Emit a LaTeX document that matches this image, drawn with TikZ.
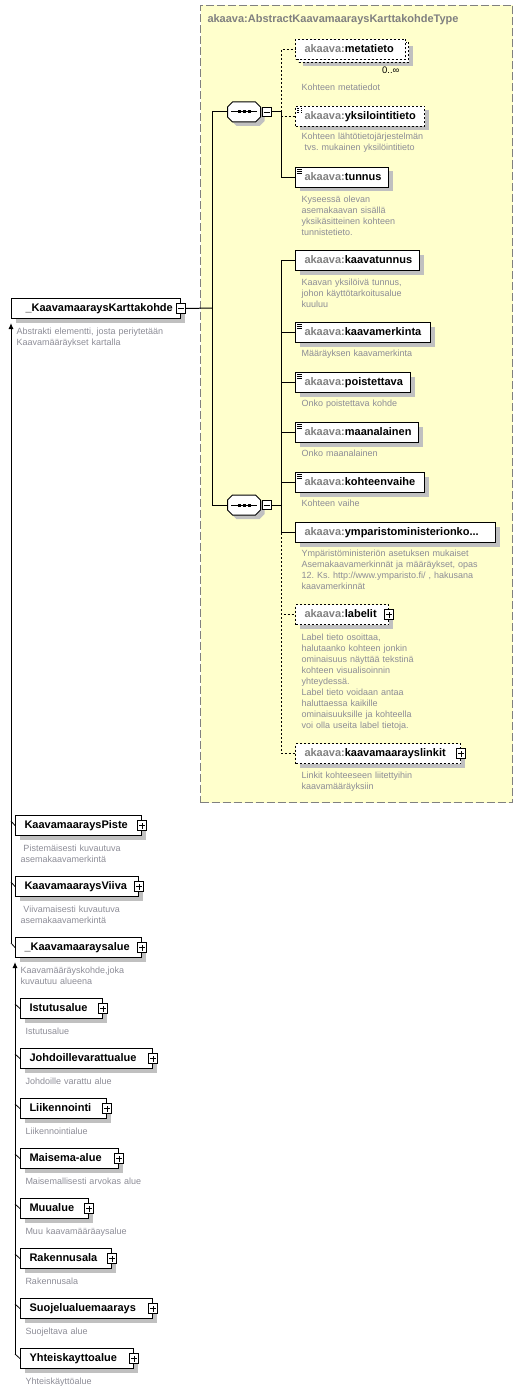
\documentclass[tikz,border=0pt]{standalone}
\usepackage{fontspec}
\setmainfont{Liberation Sans}
\usetikzlibrary{arrows.meta,shadows}
\definecolor{typefill}{RGB}{255,255,204}
\definecolor{typeline}{RGB}{128,128,128}
\definecolor{pfxgray}{RGB}{128,128,128}
\definecolor{docgray}{RGB}{140,140,150}
\definecolor{shadegray}{RGB}{192,192,192}
\newcommand{\ak}[1]{{\color{pfxgray}akaava:}#1}
\newcommand{\seqshape}[1]{%
  \draw[fill=white,boxshadow] ([xshift=5pt]#1.north west) -- ([xshift=-5pt]#1.north east)
    -- ([yshift=-5pt]#1.north east) -- ([yshift=5pt]#1.south east) -- ([xshift=-5pt]#1.south east)
    -- ([xshift=5pt]#1.south west) -- ([yshift=5pt]#1.south west) -- ([yshift=-5pt]#1.north west) -- cycle;
  \draw ([xshift=-13pt]#1.center) -- ([xshift=13pt]#1.center);
  \foreach \k in {-5,0,5}
    \fill[black] ([xshift=\k pt]#1.center) +(-1.5,-1.5) rectangle +(1.5,1.5);}
\frenchspacing

\begin{document}
\begin{tikzpicture}[x=1pt,y=-1pt,line join=miter,line width=1pt,
    boxshadow/.style={drop shadow={shadow xshift=4pt,shadow yshift=-4pt,fill=shadegray,opacity=1}},
    elembase/.style={draw,fill=white,anchor=north west,minimum height=20pt,
      inner xsep=9pt,inner ysep=0pt,text width=#1pt,align=left,
      text height=8pt,text depth=2.5pt,font=\fontsize{11}{13}\selectfont\bfseries},
    elem/.style={elembase=#1,boxshadow},
    opt/.style={dash pattern=on 2pt off 2pt},
    docicon/.style={path picture={
      \foreach \k in {2,4,6}
        \draw[line width=.8pt] ([xshift=1.5pt,yshift=-\k pt]path picture bounding box.north west) -- ++(5pt,0pt);}},
    doc/.style={anchor=base west,inner sep=0pt,text width=215pt,align=left,
      text=docgray,font=\fontsize{9}{11}\selectfont\frenchspacing},
    mult/.style={anchor=base east,inner sep=0pt,font=\fontsize{9.5}{11}\selectfont},
    pm/.style={draw,fill=white,line width=.8pt,minimum size=9.5pt,inner sep=0pt},
    minus/.style={pm,path picture={\draw[line width=.8pt]
      ([xshift=-3pt]path picture bounding box.center) -- ([xshift=3pt]path picture bounding box.center);}},
    plus/.style={pm,path picture={\draw[line width=.8pt]
      ([xshift=-3pt]path picture bounding box.center) -- ([xshift=3pt]path picture bounding box.center)
      ([yshift=-3pt]path picture bounding box.center) -- ([yshift=3pt]path picture bounding box.center);}},
    seqbox/.style={minimum width=33pt,minimum height=20pt,inner sep=0pt,outer sep=0pt},
    tick/.style={line width=.8pt},
    up/.style={-{Latex[length=6pt,width=5pt]},shorten >=4pt},
  ]
    \useasboundingbox (0,0) rectangle (528,1391);
    %% complex type
    \node[draw=typeline,fill=typefill,dash pattern=on 8pt off 3pt,anchor=north west,
      minimum width=312pt,minimum height=797pt] (ktype) at (200,5) {};
    \node[anchor=base west,inner sep=0pt,text=pfxgray,font=\fontsize{11}{13}\selectfont\bfseries]
      (ktitle) at (207,23) {akaava:AbstractKaavamaaraysKarttakohdeType};
    \node[seqbox] (seq1) at (244,112) {};
    \seqshape{seq1}
    \node[minus,anchor=west] (seq1m) at ([xshift=1pt]seq1.east) {};
    \node[seqbox] (seq2) at (244,505) {};
    \seqshape{seq2}
    \node[minus,anchor=west] (seq2m) at ([xshift=1pt]seq2.east) {};
    % first sequence
    \node[elembase=92,opt,boxshadow] (metaback) at (298,42) {};
    \node[elembase=92,opt] (meta) at (295,39) {\ak{metatieto}};
    \node[mult] (metamult) at (400,74) {0..∞};
    \node[doc] (metadoc) at (301,91) {Kohteen metatiedot};
    \node[elem=111,opt,docicon] (yksil) at (295,106) {\ak{yksilointitieto}};
    \node[doc] (yksildoc) at (301,140) {Kohteen lähtötietojärjestelmän\\~tvs. mukainen yksilöintitieto};
    \node[elem=75,docicon] (tunnus) at (295,167) {\ak{tunnus}};
    \node[doc] (tunnusdoc) at (301,202) {Kyseessä olevan\\asemakaavan sisällä\\yksikäsitteinen kohteen\\tunnistetieto.};
    % second sequence
    \node[elem=106] (kaavatunnus) at (295,250) {\ak{kaavatunnus}};
    \node[doc] (kaavatunnusdoc) at (301,285) {Kaavan yksilöivä tunnus,\\johon käyttötarkoitusalue\\kuuluu};
    \node[elem=117,docicon] (kaavamerk) at (295,322) {\ak{kaavamerkinta}};
    \node[doc] (kaavamerkdoc) at (301,356) {Määräyksen kaavamerkinta};
    \node[elem=97,docicon] (poist) at (295,372) {\ak{poistettava}};
    \node[doc] (poistdoc) at (301,406) {Onko poistettava kohde};
    \node[elem=105,docicon] (maanal) at (295,422) {\ak{maanalainen}};
    \node[doc] (maanaldoc) at (301,456) {Onko maanalainen};
    \node[elem=111,docicon] (kohteen) at (295,472) {\ak{kohteenvaihe}};
    \node[doc] (kohteendoc) at (301,506) {Kohteen vaihe};
    \node[elem=182] (ympar) at (295,522) {\ak{ymparistoministerionko...}};
    \node[doc] (ympardoc) at (301,556) {Ympäristöministeriön asetuksen mukaiset\\Asemakaavamerkinnät ja määräykset, opas\\12. Ks. http://www.ymparisto.fi/ , hakusana\\kaavamerkinnät};
    \node[elem=75,opt] (labelit) at (295,604) {\ak{labelit}};
    \node[plus] (labelitp) at (labelit.east) {};
    \node[doc] (labelitdoc) at (301,640) {Label tieto osoittaa,\\halutaanko kohteen jonkin\\ominaisuus näyttää tekstinä\\kohteen visualisoinnin\\yhteydessä.\\Label tieto voidaan antaa\\haluttaessa kaikille\\ominaisuuksille ja kohteella\\voi olla useita label tietoja.};
    \node[elem=147,opt] (linkit) at (295,743) {\ak{kaavamaarayslinkit}};
    \node[plus] (linkitp) at (linkit.east) {};
    \node[doc] (linkitdoc) at (301,778) {Linkit kohteeseen liitettyihin\\kaavamääräyksiin};
    %% element and its substitutions
    \node[elem=141,inner xsep=14pt] (main) at (11,298) {\_KaavamaaraysKarttakohde};
    \node[minus] (mainm) at (main.east) {};
    \node[doc] (maindoc) at (16,334) {Abstrakti elementti, josta periytetään\\Kaavamääräykset kartalla};
    \node[elem=108] (piste) at (15,815) {KaavamaaraysPiste};
    \node[plus] (pistep) at (piste.east) {};
    \node[doc] (pistedoc) at (20,851) {~Pistemäisesti kuvautuva\\asemakaavamerkintä};
    \node[elem=105] (viiva) at (15,876) {KaavamaaraysViiva};
    \node[plus] (viivap) at (viiva.east) {};
    \node[doc] (viivadoc) at (20,912) {~Viivamaisesti kuvautuva\\asemakaavamerkintä};
    \node[elem=108] (alue) at (15,937) {\_Kaavamaaraysalue};
    \node[plus] (aluep) at (alue.east) {};
    \node[doc] (aluedoc) at (20,973) {Kaavamääräyskohde,joka\\kuvautuu alueena};
    \node[elem=64] (istutus) at (20,998) {Istutusalue};
    \node[plus] (istutusp) at (istutus.east) {};
    \node[doc] (istutusdoc) at (25,1034) {Istutusalue};
    \node[elem=114] (johdo) at (20,1048) {Johdoillevarattualue};
    \node[plus] (johdop) at (johdo.east) {};
    \node[doc] (johdodoc) at (25,1084) {Johdoille varattu alue};
    \node[elem=68] (liik) at (20,1098) {Liikennointi};
    \node[plus] (liikp) at (liik.east) {};
    \node[doc] (liikdoc) at (25,1134) {Liikennointialue};
    \node[elem=80] (maisema) at (20,1148) {Maisema-alue};
    \node[plus] (maisemap) at (maisema.east) {};
    \node[doc] (maisemadoc) at (25,1184) {Maisemallisesti arvokas alue};
    \node[elem=50] (muu) at (20,1198) {Muualue};
    \node[plus] (muup) at (muu.east) {};
    \node[doc] (muudoc) at (25,1234) {Muu kaavamääräaysalue};
    \node[elem=73] (rak) at (20,1248) {Rakennusala};
    \node[plus] (rakp) at (rak.east) {};
    \node[doc] (rakdoc) at (25,1284) {Rakennusala};
    \node[elem=114] (suoj) at (20,1298) {Suojelualuemaarays};
    \node[plus] (suojp) at (suoj.east) {};
    \node[doc] (suojdoc) at (25,1334) {Suojeltava alue};
    \node[elem=95] (yht) at (20,1348) {Yhteiskayttoalue};
    \node[plus] (yhtp) at (yht.east) {};
    \node[doc] (yhtdoc) at (25,1384) {Yhteiskäyttöalue};
    %% connectors
    \coordinate (trunk) at (212,308);
    \coordinate (bus1) at (281,112);
    \coordinate (bus2) at (281,505);
    \draw (mainm.east) -- (trunk);
    \draw (trunk) |- (seq1.west);
    \draw (trunk) |- (seq2.west);
    \draw (seq1m.east) -- (bus1);
    \draw[opt] (bus1) |- (meta.west);
    \draw[opt] (bus1) |- (yksil.west);
    \draw (bus1) |- (tunnus.west);
    \draw (seq2m.east) -- (bus2);
    \draw[opt] (bus2) |- (labelit.west);
    \draw[opt] (bus2) |- (linkit.west);
    \draw (bus2) |- (kaavatunnus.west);
    \draw (bus2) |- (kaavamerk.west);
    \draw (bus2) |- (poist.west);
    \draw (bus2) |- (maanal.west);
    \draw (bus2) |- (kohteen.west);
    \draw (bus2) |- (ympar.west);
    \draw[up] ([xshift=-4pt,yshift=4.5pt]alue.west) -- (main.south west);
    \draw[tick] ([xshift=-4pt,yshift=4.5pt]piste.west) -- (piste.west);
    \draw[tick] ([xshift=-4pt,yshift=4.5pt]viiva.west) -- (viiva.west);
    \draw[tick] ([xshift=-4pt,yshift=4.5pt]alue.west) -- (alue.west);
    \draw[up] ([xshift=-5pt,yshift=4.5pt]yht.west) -- (alue.south west);
    \draw[tick] ([xshift=-5pt,yshift=4.5pt]istutus.west) -- (istutus.west);
    \draw[tick] ([xshift=-5pt,yshift=4.5pt]johdo.west) -- (johdo.west);
    \draw[tick] ([xshift=-5pt,yshift=4.5pt]liik.west) -- (liik.west);
    \draw[tick] ([xshift=-5pt,yshift=4.5pt]maisema.west) -- (maisema.west);
    \draw[tick] ([xshift=-5pt,yshift=4.5pt]muu.west) -- (muu.west);
    \draw[tick] ([xshift=-5pt,yshift=4.5pt]rak.west) -- (rak.west);
    \draw[tick] ([xshift=-5pt,yshift=4.5pt]suoj.west) -- (suoj.west);
    \draw[tick] ([xshift=-5pt,yshift=4.5pt]yht.west) -- (yht.west);
    %
\end{tikzpicture}
\end{document}
